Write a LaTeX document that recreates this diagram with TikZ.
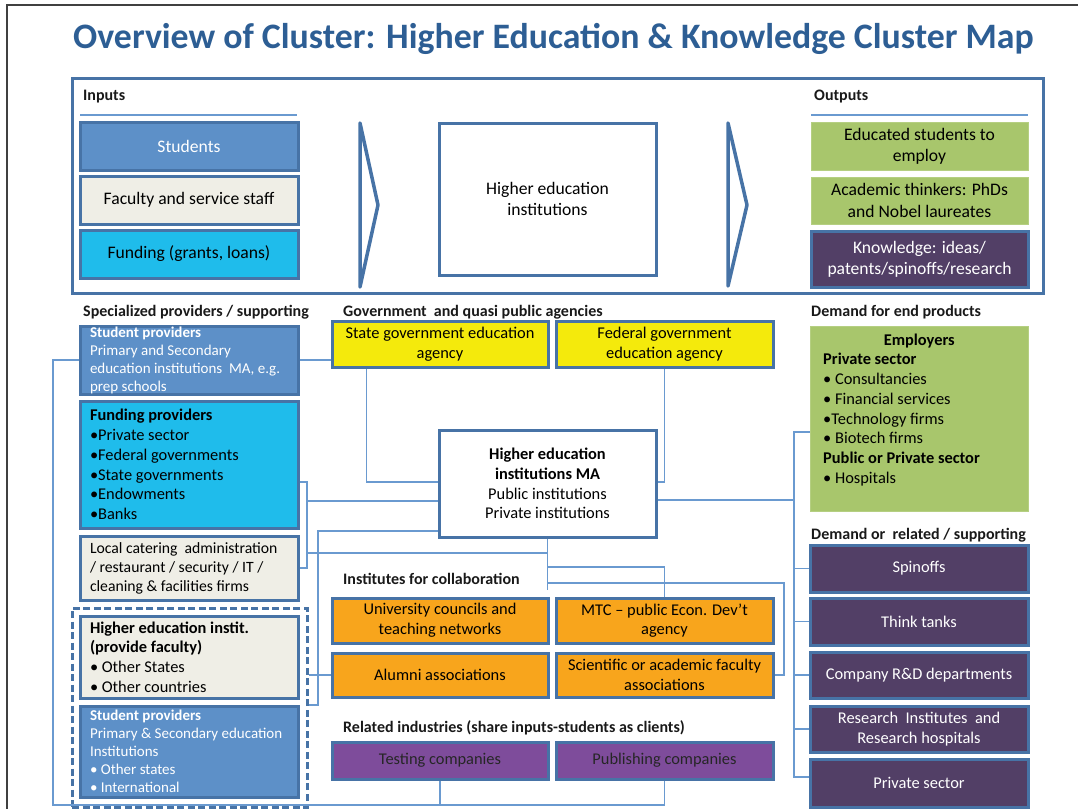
\documentclass[tikz,border=0pt]{standalone}
\usepackage{fontspec}
\setmainfont{Carlito}
\usetikzlibrary{calc}
\newcommand{\fsz}[2]{\fontsize{#1}{#2}\selectfont}
\definecolor{titleblue}{HTML}{2D5E94}
\definecolor{boxline}{HTML}{4773A6}
\definecolor{connline}{HTML}{6A9AD0}
\definecolor{stublue}{HTML}{5D90C8}
\definecolor{beige}{HTML}{EFEEE6}
\definecolor{cyanf}{HTML}{1FBCEB}
\definecolor{yellowf}{HTML}{F4EA0C}
\definecolor{orangef}{HTML}{F8A51C}
\definecolor{purplem}{HTML}{7E4C9B}
\definecolor{purpled}{HTML}{523F66}
\definecolor{greenf}{HTML}{A8C66C}
\begin{document}
\begin{tikzpicture}[x=1pt,y=-1pt,
  box/.style={draw=boxline, line width=3pt, rectangle, inner sep=0pt, align=center, font=\fsz{16.4}{19.7}},
  bigbox/.style={box, font=\fsz{17.6}{21.3}},
  gbox/.style={rectangle, draw=greenf!85!white, line width=1pt, fill=greenf, inner sep=0pt, align=center, font=\fsz{17.6}{21.3}},
  lbox/.style={box, text width=198pt, align=flush left},
  head/.style={anchor=base west, inner sep=0pt, font=\fsz{16}{19}\bfseries, text=black!90},
  conn/.style={draw=connline, line width=1.8pt},
  chev/.style={draw=boxline, line width=3.5pt, line join=round}
]
\useasboundingbox (0,0) rectangle (1078,809);
% page frame
\draw[black!75, line width=1.2pt] (1078,5) -- (7,5) -- (7,809);
% title
\node[anchor=base, inner sep=0pt, text=titleblue, font=\fsz{35.8}{40}\bfseries] (title) at (553.5,48) {Overview of Cluster: Higher Education \& Knowledge Cluster Map};

% top panel
\node[draw=boxline, line width=3pt, minimum width=971pt, minimum height=215pt, inner sep=0pt] (panel) at (557.5,185.5) {};
\node[head] (inputs) at (83,100) {Inputs};
\node[head] (outputs) at (814,100) {Outputs};
\draw[connline, line width=2pt] (80,115) -- (297,115);
\draw[connline, line width=2pt] (811,115) -- (1028,115);
\node[bigbox, fill=stublue, text=white, minimum width=218pt, minimum height=48pt] (students) at (189,146) {Students};
\node[bigbox, fill=beige, minimum width=218pt, minimum height=48pt] (faculty) at (189,200) {Faculty and service staff};
\node[bigbox, fill=cyanf, minimum width=218pt, minimum height=48pt] (funding) at (189,254) {Funding (grants, loans)};
\draw[chev] (360,123) -- (378,205) -- (360,287) -- cycle;
\node[bigbox, fill=white, minimum width=217pt, minimum height=152pt] (hei) at (547.5,199) {Higher education\\institutions};
\draw[chev] (728,123) -- (747,205) -- (728,286) -- cycle;
\node[gbox, minimum width=217pt, minimum height=48pt] (out1) at (919.5,146) {Educated students to\\employ};
\node[gbox, minimum width=217pt, minimum height=47pt] (out2) at (919.5,200.5) {Academic thinkers: PhDs\\and Nobel laureates};
\node[bigbox, fill=purpled, text=white, minimum width=217pt, minimum height=56pt] (out3) at (919.5,259) {Knowledge: ideas/\\patents/spinoffs/research};

% section headings
\node[head] (hspec) at (83,316) {Specialized providers / supporting};
\node[head] (hgov) at (343,316) {Government~~and quasi public agencies};
\node[head] (hdem) at (811,316) {Demand for end products};
\node[head] (hdem2) at (811,539) {Demand or~~related / supporting};
\node[head] (hinst) at (343,584) {Institutes for collaboration};
\node[head] (hrel) at (343,732) {Related industries (share inputs-students as clients)};

% left column
\node[lbox, fill=stublue, text=white, font=\fsz{15}{18}, minimum width=218pt, minimum height=68pt] (sp1) at (189,360) {{\bfseries Student providers}\\Primary and Secondary\\education institutions~~MA, e.g.\\prep schools};
\node[lbox, fill=cyanf, minimum width=218pt, minimum height=127pt] (fundp) at (189,464.5) {{\bfseries Funding providers}\\•Private sector\\•Federal governments\\•State governments\\•Endowments\\•Banks};
\node[lbox, fill=beige, font=\fsz{15.7}{19}, minimum width=218pt, minimum height=64pt] (local) at (189,568) {Local catering~~administration\\/ restaurant / security / IT /\\cleaning \& facilities firms};
\node[draw=boxline, line width=3pt, dash pattern=on 7pt off 3.5pt, minimum width=235pt, minimum height=199pt, inner sep=0pt] (dashed) at (189.5,707.5) {};
\node[lbox, fill=beige, minimum width=218pt, minimum height=82pt] (heiinst) at (189,657) {{\bfseries Higher education instit.}\\{\bfseries (provide faculty)}\\• Other States\\• Other countries};
\node[lbox, fill=stublue, text=white, font=\fsz{15}{18}, minimum width=218pt, minimum height=91pt] (sp2) at (189,751.5) {{\bfseries Student providers}\\Primary \& Secondary education\\Institutions\\• Other states\\• International};

% government
\node[box, fill=yellowf, minimum width=216pt, minimum height=46pt] (state) at (440,344) {State government education\\agency};
\node[box, fill=yellowf, minimum width=217pt, minimum height=46pt] (federal) at (664.5,344) {Federal government\\education agency};
\node[box, fill=white, minimum width=217pt, minimum height=107pt] (heima) at (547.5,483.5) {{\bfseries Higher education}\\{\bfseries institutions MA}\\Public institutions\\Private institutions};

% institutes
\node[box, fill=orangef, minimum width=216pt, minimum height=45pt] (univ) at (440,620.5) {University councils and\\teaching networks};
\node[box, fill=orangef, minimum width=217pt, minimum height=45pt] (mtc) at (664.5,620.5) {MTC – public Econ. Dev’t\\agency};
\node[box, fill=orangef, minimum width=216pt, minimum height=44pt] (alumni) at (440,675) {Alumni associations};
\node[box, fill=orangef, minimum width=217pt, minimum height=44pt] (sci) at (664.5,675) {Scientific or academic faculty\\associations};
\node[box, fill=purplem, text=black!85, minimum width=216pt, minimum height=37pt] (testing) at (440,760.5) {Testing companies};
\node[box, fill=purplem, text=black!85, minimum width=217pt, minimum height=37pt] (publishing) at (664.5,760.5) {Publishing companies};

% right column
\node[gbox, minimum width=218pt, minimum height=185pt] (employers) at (919,418.5) {};
\node[anchor=north west, inner sep=0pt, text width=192pt, align=flush left, font=\fsz{16.4}{19.7}] (emptext) at (823,333.5) {\makebox[192pt]{\bfseries Employers}\\{\bfseries Private sector}\\• Consultancies\\• Financial services\\•Technology firms\\• Biotech firms\\{\bfseries Public or Private sector}\\• Hospitals};
\node[box, fill=purpled, text=white, minimum width=218pt, minimum height=47pt] (spinoffs) at (919,568.5) {Spinoffs};
\node[box, fill=purpled, text=white, minimum width=218pt, minimum height=47pt] (think) at (919,621.5) {Think tanks};
\node[box, fill=purpled, text=white, minimum width=218pt, minimum height=46pt] (rd) at (919,675) {Company R\&D departments};
\node[box, fill=purpled, text=white, minimum width=218pt, minimum height=46pt] (research) at (919,729) {Research~~Institutes~~and\\Research hospitals};
\node[box, fill=purpled, text=white, minimum width=218pt, minimum height=48pt] (privsec) at (919,783) {Private sector};

% coordinates
\coordinate (jb) at (440,805);
\coordinate (lspine) at (53,360);
\coordinate (fundx) at (307,482);
\coordinate (hspineend) at (547.5,590);
\coordinate (rspine) at (794,432);

% connectors
\draw[conn] (sp1.west) -- (lspine) |- (jb) -- (testing.south);
\draw[conn] (publishing.south) |- (jb);
\draw[conn] (sp1.east) -- (state.west |- sp1.east);
\draw[conn] ($(state.south west)+(36,0)$) |- (heima.west |- 0,482);
\draw[conn] (federal.south) |- (heima.east |- 0,482);
\draw[conn] (fundp.east |- fundx) -- (fundx) |- (local.east);
\draw[conn] (fundx |- 0,501) -- (heima.west |- 0,501);
\draw[conn] (heima.west |- 0,531) -- (318,531) |- (dashed.east |- 0,705);
\draw[conn] (fundx |- 0,553) -- (heima.south |- 0,553);
\draw[conn] (heima.south) -- (hspineend);
\draw[conn] (heima.south |- 0,567) -| (mtc.north);
\draw[conn] (heima.south |- 0,583) -- (784,583) |- (sci.east);
\draw[conn] (dashed.east |- alumni.west) -- (alumni.west);
\draw[conn] (heima.east |- 0,500) -- (rspine |- 0,500);
\draw[conn] (employers.west |- rspine) -- (rspine) |- (privsec.west |- 0,777);
\draw[conn] (rspine |- spinoffs.west) -- (spinoffs.west);
\draw[conn] (rspine |- think.west) -- (think.west);
\draw[conn] (rspine |- rd.west) -- (rd.west);
\draw[conn] (rspine |- research.west) -- (research.west);
\end{tikzpicture}
\end{document}
